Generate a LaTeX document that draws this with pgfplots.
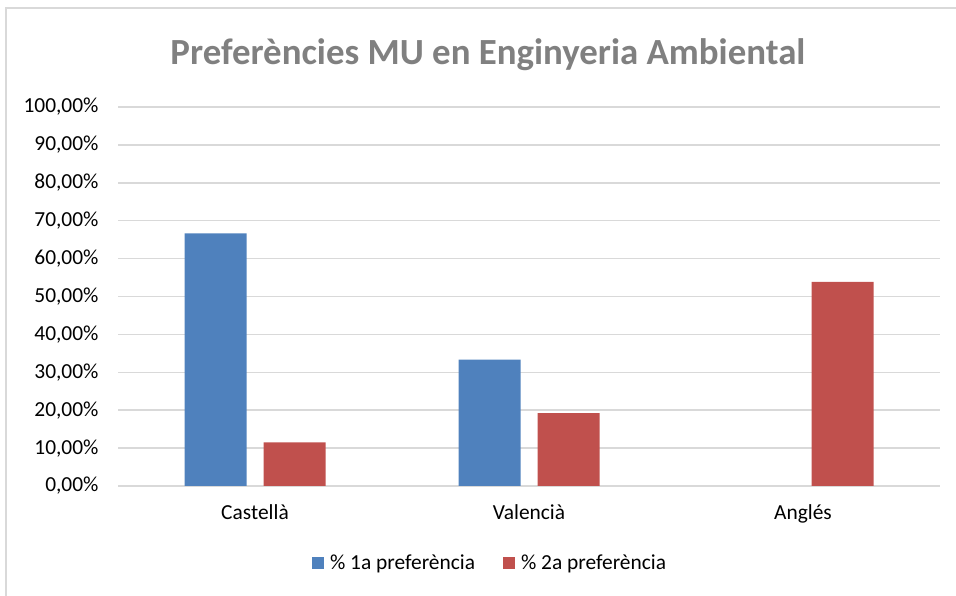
\documentclass[border=0pt]{standalone}
\usepackage{pgfplots}
\pgfplotsset{compat=1.18}
\usepackage{fontspec}
\setmainfont{Carlito}

\definecolor{serieA}{HTML}{4F81BD}
\definecolor{serieB}{HTML}{C0504D}
\definecolor{gridgray}{HTML}{D9D9D9}
\definecolor{titlegray}{HTML}{808080}

\begin{document}
\begin{tikzpicture}[x=1bp,y=1bp]
\useasboundingbox (0,0) rectangle (956,596);
\draw[gridgray, line width=1.5bp] (6,-10) rectangle (970,588);
\node[font=\fontsize{37}{42}\selectfont\bfseries, text=titlegray] at (488,541)
  {Preferències MU en Enginyeria Ambiental};
\begin{axis}[
    at={(118bp,110bp)}, anchor=south west,
    scale only axis,
    width=822bp, height=379bp,
    ybar=17bp,
    bar width=62bp,
    xmin=-0.5, xmax=2.5,
    ymin=0, ymax=100,
    xtick={0,1,2},
    xticklabels={Castellà,Valencià,Anglés},
    ytick={0,10,...,100},
    /pgf/number format/assume math mode=true,
    yticklabel={\pgfmathprintnumber[fixed,fixed zerofill,precision=2,use comma]{\tick}\%},
    ticklabel style={font=\fontsize{21.5}{24}\selectfont, text=black},
    yticklabel style={xshift=-16bp},
    xticklabel style={yshift=-15bp},
    major tick length=0pt,
    ymajorgrids,
    grid style={gridgray, line width=1.5bp},
    axis x line*=bottom,
    axis y line*=left,
    y axis line style={draw=none},
    x axis line style={gridgray, line width=1.5bp, -},
    legend style={at={(0.4526,-0.203)}, anchor=center, draw=none,
                  font=\fontsize{21.5}{24}\selectfont, legend columns=2,
                  /tikz/every even column/.append style={column sep=26bp}},
    legend image code/.code={\fill[#1] (0bp,-6bp) rectangle (12bp,6bp);
                             \path (16bp,0bp);},
]
\addplot[fill=serieA, draw=none] coordinates {(0,66.67) (1,33.33)};
\addplot[fill=serieB, draw=none] coordinates {(0,11.54) (1,19.23) (2,53.85)};
\legend{\% 1a preferència, \% 2a preferència}
\end{axis}
\end{tikzpicture}
\end{document}
